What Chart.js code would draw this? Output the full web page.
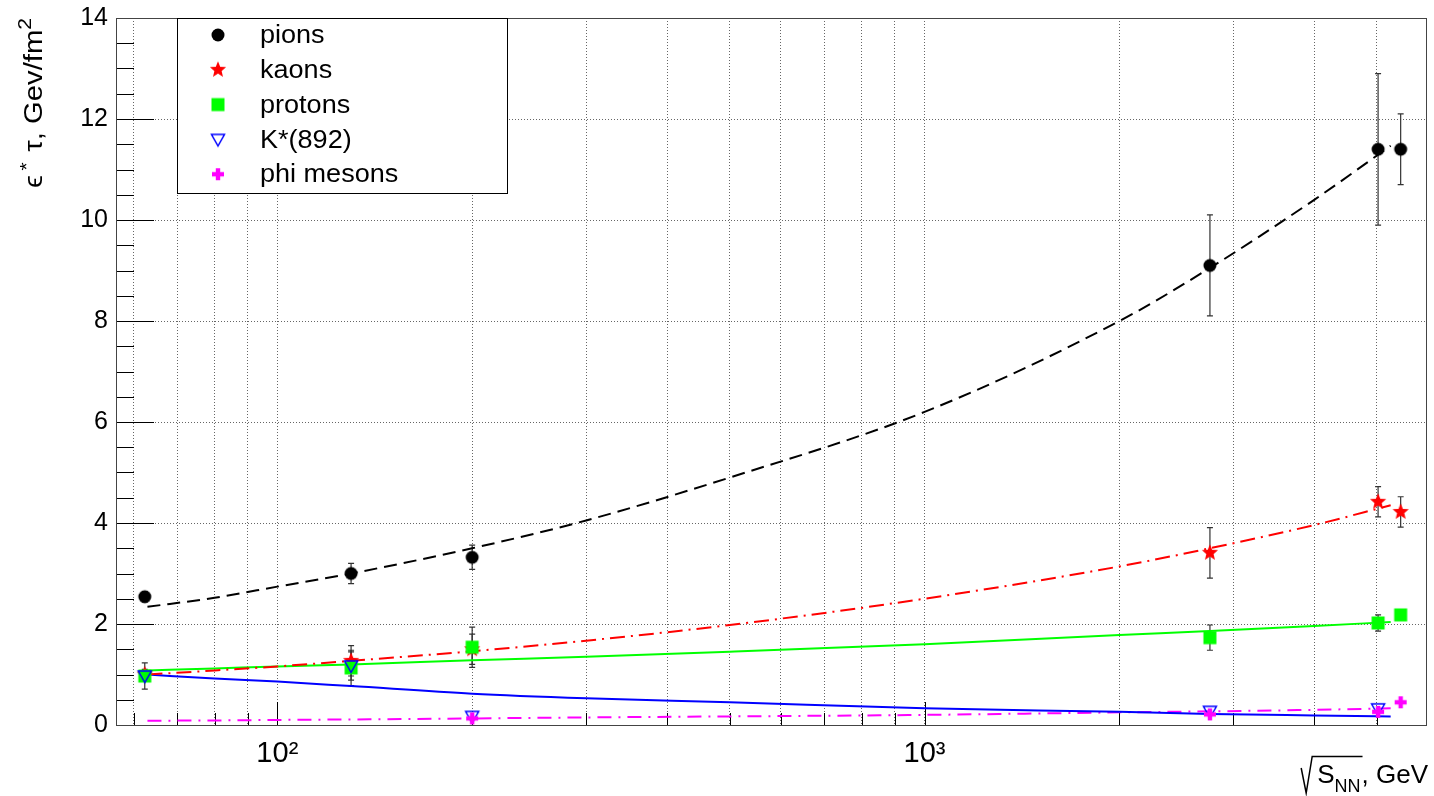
<!DOCTYPE html>
<html>
<head>
<meta charset="utf-8">
<title>epsilon*tau vs sqrt(s_NN)</title>
<script src="https://cdn.jsdelivr.net/npm/chart.js@4.4.1/dist/chart.umd.min.js"></script>
<style>
  html, body { margin: 0; padding: 0; background: #fff; }
  #wrap { position: relative; width: 1434px; height: 796px; }
</style>
</head>
<body>
<div id="wrap"><canvas id="epsTauChart"></canvas></div>
<script>
// collision energies, GeV
const energies = [62.4, 130, 200, 2760, 5020, 5440];

// measured points and their errors (null = no point at that energy)
const pions     = [2.54, 3.0, 3.32, 9.1, 11.4, 11.4];
const pionErr   = [0.1, 0.2, 0.24, 1.0, 1.5, 0.7];
const kaons     = [1.0, 1.27, 1.5, 3.41, 4.42, 4.22];
const kaonErr   = [0.1, 0.3, 0.3, 0.5, 0.3, 0.3];
const protons   = [0.97, 1.13, 1.54, 1.73, 2.02, 2.18];
const protonErr = [0.26, 0.35, 0.4, 0.25, 0.16, 0];
const kstar     = [0.97, 1.17, 0.17, 0.27, 0.32, null];
const kstarErr  = [0, 0.28, 0, 0, 0, 0];
const phi       = [null, null, 0.13, 0.21, 0.26, 0.45];
const phiErr    = [0, 0, 0, 0, 0, 0];

// fit curves
const fitX      = [63, 80, 100, 130, 200, 300, 500, 1000, 2000, 2760, 4000, 5250];
const pionFit   = [2.34, 2.52, 2.74, 3.0, 3.5, 4.05, 4.9, 6.2, 8.0, 9.05, 10.4, 11.47];
const kaonFit   = [1.0, 1.08, 1.16, 1.27, 1.46, 1.67, 1.98, 2.5, 3.14, 3.5, 3.96, 4.35];
const protonFit = [1.08, 1.12, 1.16, 1.2, 1.28, 1.35, 1.45, 1.6, 1.78, 1.86, 1.96, 2.04];
const kstarFit  = [1.0, 0.92, 0.86, 0.77, 0.62, 0.53, 0.45, 0.33, 0.26, 0.22, 0.19, 0.17];
const phiFit    = [0.085, 0.09, 0.1, 0.11, 0.13, 0.15, 0.17, 0.2, 0.25, 0.27, 0.3, 0.33];

// axis ticks
const yTicks = [0, 2, 4, 6, 8, 10, 12, 14];
const xTicks = [60, 70, 80, 90, 100, 200, 300, 400, 500, 600, 700, 800, 900, 1000, 2000, 3000, 4000, 5000];

const FONT = '"Liberation Sans", Arial, Helvetica, sans-serif';

// marker images (ROOT style markers)
function makeMarker(draw) {
    const c = document.createElement('canvas');
    c.width = 22; c.height = 22;
    const g = c.getContext('2d');
    g.translate(11, 11);
    draw(g);
    return c;
}
const circleMark = makeMarker(function (g) {
    g.fillStyle = '#000';
    g.beginPath(); g.arc(0, 0, 6.5, 0, Math.PI * 2); g.fill();
});
const starMark = makeMarker(function (g) {
    g.fillStyle = '#ff0000';
    g.beginPath();
    for (let i = 0; i < 10; i++) {
        const r = i % 2 === 0 ? 8.5 : 3.8;
        const a = -Math.PI / 2 + i * Math.PI / 5;
        g.lineTo(Math.cos(a) * r, Math.sin(a) * r);
    }
    g.closePath(); g.fill();
});
const squareMark = makeMarker(function (g) {
    g.fillStyle = '#00ff00';
    g.fillRect(-6.5, -6.5, 13, 13);
});
const triMark = makeMarker(function (g) {
    g.strokeStyle = '#0000ff'; g.lineWidth = 1.5;
    g.beginPath(); g.moveTo(-6.5, -5); g.lineTo(6.5, -5); g.lineTo(0, 6.5); g.closePath(); g.stroke();
});
const crossMark = makeMarker(function (g) {
    g.fillStyle = '#ff00ff';
    g.fillRect(-6, -2.2, 12, 4.4);
    g.fillRect(-2.2, -6, 4.4, 12);
});

function pts(xs, ys) {
    const out = [];
    xs.forEach(function (x, i) { if (ys[i] !== null) out.push({ x: x, y: ys[i] }); });
    return out;
}
function errs(ys, es) {
    const out = [];
    ys.forEach(function (y, i) { if (y !== null) out.push(es[i]); });
    return out;
}

function markerSet(label, ys, es, mark, order) {
    return {
        label: label, data: pts(energies, ys), errors: errs(ys, es),
        pointStyle: mark, pointRadius: 7, showLine: false, order: order
    };
}
function fitSet(ys, color, dash) {
    return {
        label: '', data: pts(fitX, ys), showLine: true, pointRadius: 0,
        borderColor: color, borderWidth: 2, borderDash: dash,
        cubicInterpolationMode: 'monotone', order: 10
    };
}

const legendItems = [
    { mark: circleMark, text: 'pions' },
    { mark: starMark, text: 'kaons' },
    { mark: squareMark, text: 'protons' },
    { mark: triMark, text: 'K*(892)' },
    { mark: crossMark, text: 'phi mesons' }
];

// error bars with small caps
const errorBars = {
    id: 'errorBars',
    beforeDatasetsDraw(chart) {
        const ctx = chart.ctx, ys = chart.scales.y;
        ctx.save();
        ctx.strokeStyle = '#333';
        ctx.lineWidth = 1.2;
        chart.data.datasets.forEach(function (ds, i) {
            if (!ds.errors) return;
            const meta = chart.getDatasetMeta(i);
            meta.data.forEach(function (pt, j) {
                const e = ds.errors[j];
                if (!e) return;
                const v = ds.data[j].y;
                const t = ys.getPixelForValue(v + e), b = ys.getPixelForValue(v - e);
                ctx.beginPath();
                ctx.moveTo(pt.x, t); ctx.lineTo(pt.x, b);
                ctx.moveTo(pt.x - 3, t); ctx.lineTo(pt.x + 3, t);
                ctx.moveTo(pt.x - 3, b); ctx.lineTo(pt.x + 3, b);
                ctx.stroke();
            });
        });
        ctx.restore();
    }
};

// frame and inward tick marks, like ROOT
const frameTicks = {
    id: 'frameTicks',
    beforeDatasetsDraw(chart) {
        const ctx = chart.ctx, a = chart.chartArea;
        const xs = chart.scales.x, ys = chart.scales.y;
        ctx.save();
        ctx.strokeStyle = '#000';
        ctx.lineWidth = 1;
        ctx.beginPath();
        for (let v = 0; v <= 14.001; v += 0.5) {
            const y = Math.round(ys.getPixelForValue(v)) + 0.5;
            const len = Math.abs(v % 2) < 1e-6 ? 38 : 18;
            ctx.moveTo(a.left, y); ctx.lineTo(a.left + len, y);
        }
        xTicks.forEach(function (v) {
            const x = Math.round(xs.getPixelForValue(v)) + 0.5;
            const len = (v === 100 || v === 1000) ? 23 : 12;
            ctx.moveTo(x, a.bottom); ctx.lineTo(x, a.bottom - len);
        });
        ctx.stroke();
        ctx.strokeStyle = '#444';
        ctx.strokeRect(Math.round(a.left) + 0.5, Math.round(a.top) + 0.5,
            Math.round(a.right - a.left), Math.round(a.bottom - a.top));
        ctx.restore();
    }
};

// legend box and axis titles
const decorations = {
    id: 'decorations',
    afterDraw(chart) {
        const ctx = chart.ctx;
        ctx.save();
        // legend
        ctx.fillStyle = '#fff';
        ctx.fillRect(177, 18, 330, 175);
        ctx.strokeStyle = '#000';
        ctx.lineWidth = 1;
        ctx.strokeRect(177.5, 18.5, 330, 175);
        ctx.font = '26px ' + FONT;
        ctx.fillStyle = '#000';
        ctx.textBaseline = 'middle';
        legendItems.forEach(function (it, i) {
            const y = 35 + i * 34.8;
            ctx.drawImage(it.mark, 218 - 11, y - 11);
            ctx.save();
            ctx.translate(260, y + 1);
            ctx.scale(1.04, 1);
            ctx.fillText(it.text, 0, 0);
            ctx.restore();
        });

        // y title, rotated, top aligned, spans y 188 -> 18
        ctx.save();
        ctx.translate(42, 188);
        ctx.rotate(-Math.PI / 2);
        ctx.textBaseline = 'alphabetic';
        const big = '25px ' + FONT, small = '18px ' + FONT;
        const mid = ' \u03c4, Gev/fm';
        ctx.font = big;
        const wEps = ctx.measureText('\u03f5').width, wMid = ctx.measureText(mid).width;
        ctx.font = small;
        const wStar = ctx.measureText('*').width, wTwo = ctx.measureText('2').width;
        const total = wEps + 4 + wStar + 2 + wMid + wTwo;
        ctx.scale(170 / total, 1);
        let x = 0;
        ctx.font = big; ctx.fillText('\u03f5', x, 0); x += wEps + 4;
        ctx.font = small; ctx.fillText('*', x, -9); x += wStar + 2;
        ctx.font = big; ctx.fillText(mid, x, 0); x += wMid;
        ctx.font = small; ctx.fillText('2', x, -11);
        ctx.restore();

        // x title: sqrt(S_NN), GeV, right aligned
        ctx.textBaseline = 'alphabetic';
        ctx.font = '26px ' + FONT;
        const tail = ', GeV';
        const right = 1428;
        const xTail = right - ctx.measureText(tail).width;
        ctx.fillText(tail, xTail, 783);
        ctx.font = '18px ' + FONT;
        const wNN = ctx.measureText('NN').width;
        const xNN = xTail - wNN - 1;
        ctx.fillText('NN', xNN, 792);
        ctx.font = '26px ' + FONT;
        const xS = xNN - ctx.measureText('S').width;
        ctx.fillText('S', xS, 783);
        ctx.lineWidth = 1.5;
        ctx.beginPath();
        ctx.moveTo(xS - 16, 768);
        ctx.lineTo(xS - 11, 793);
        ctx.lineTo(xS - 5, 756.5);
        ctx.lineTo(xNN + wNN + 2, 756.5);
        ctx.stroke();
        ctx.restore();
    }
};

Chart.defaults.font.family = FONT;
Chart.defaults.color = '#000';

const ctxMain = document.getElementById('epsTauChart');
new Chart(ctxMain, {
    type: 'scatter',
    data: {
        datasets: [
            markerSet('phi mesons', phi, phiErr, crossMark, 1),
            markerSet('K*(892)', kstar, kstarErr, triMark, 2),
            markerSet('protons', protons, protonErr, squareMark, 3),
            markerSet('kaons', kaons, kaonErr, starMark, 4),
            markerSet('pions', pions, pionErr, circleMark, 5),
            fitSet(pionFit, '#000000', [13, 7]),
            fitSet(kaonFit, '#ff0000', [15, 6, 2, 6]),
            fitSet(protonFit, '#00ff00', []),
            fitSet(kstarFit, '#0000ff', []),
            fitSet(phiFit, '#ff00ff', [14, 7, 2, 7])
        ]
    },
    options: {
        responsive: true,
        maintainAspectRatio: false,
        animation: false,
        layout: { padding: { left: 0, top: 18, right: 3, bottom: 0 } },
        plugins: {
            legend: { display: false },
            tooltip: { enabled: false }
        },
        scales: {
            x: {
                type: 'logarithmic',
                min: 56.33,
                max: 5953,
                afterBuildTicks: function (s) { s.ticks = xTicks.map(function (v) { return { value: v }; }); },
                afterFit: function (s) { s.height = 71; s.paddingLeft = 0; s.paddingRight = 0; },
                grid: { color: '#666', lineWidth: 1, drawTicks: false },
                border: { display: false, dash: [1, 2] },
                ticks: {
                    autoSkip: false, maxRotation: 0, padding: 12,
                    font: { size: 29 }, color: '#000',
                    callback: function (v) { return v === 100 ? '10\u00b2' : (v === 1000 ? '10\u00b3' : ''); }
                }
            },
            y: {
                min: 0,
                max: 14,
                afterBuildTicks: function (s) { s.ticks = yTicks.map(function (v) { return { value: v }; }); },
                afterFit: function (s) { s.width = 116; s.paddingTop = 0; s.paddingBottom = 0; },
                grid: { color: '#666', lineWidth: 1, drawTicks: false },
                border: { display: false, dash: [1, 2] },
                ticks: { padding: 8, font: { size: 25 }, color: '#000' }
            }
        }
    },
    plugins: [frameTicks, errorBars, decorations]
});
</script>
</body>
</html>
